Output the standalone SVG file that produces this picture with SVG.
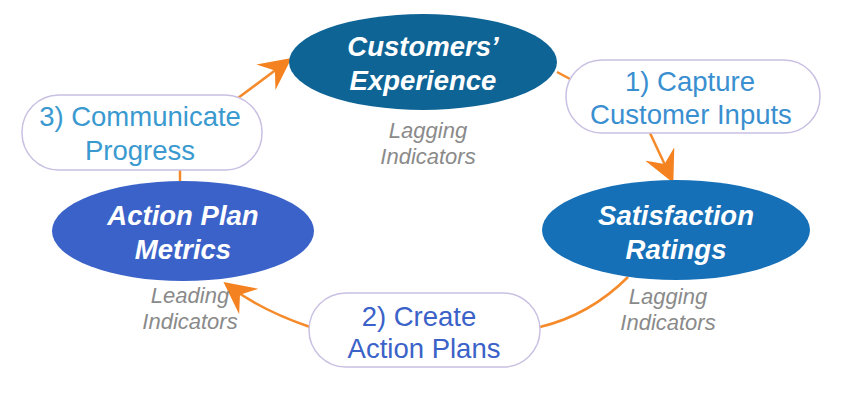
<svg xmlns="http://www.w3.org/2000/svg" width="844" height="402" viewBox="0 0 844 402">
<defs>
<style>
.ell text{font-family:"Liberation Sans",Arial,sans-serif;font-weight:bold;font-style:italic;font-size:27.5px;fill:#fff;text-anchor:middle}
.box rect{fill:#fff;stroke:#c9c0e2;stroke-width:1.5}
.box text{font-family:"Liberation Sans",Arial,sans-serif;font-size:27.5px;text-anchor:middle}
.ind{font-family:"Liberation Sans",Arial,sans-serif;font-style:italic;font-size:22px;fill:#8a8a8a;text-anchor:middle}
.con path{fill:none;stroke:#f58a2a;stroke-width:2.5}
</style>
<marker id="ahb" viewBox="0 0 20 20" refX="18" refY="10" markerWidth="32" markerHeight="32" markerUnits="userSpaceOnUse" orient="auto">
<path d="M0,0 L20,10 L0,20 L7,10 Z" fill="#f58220"/>
</marker>
</defs>
<rect width="844" height="402" fill="#fff"/>
<g class="con" id="connectors">
<path d="M557,72 L570,79"/>
<path d="M650,133 L672,180" marker-end="url(#ahb)"/>
<path d="M628,277 Q590,315 540,327"/>
<path d="M310,327 Q260,310 226,284" marker-end="url(#ahb)"/>
<path d="M180,181 L180,168"/>
<path d="M238,98 L289,60" marker-end="url(#ahb)"/>
</g>
<g id="customers-experience" class="ell">
<ellipse cx="423" cy="62" rx="134" ry="48" fill="#0f6496"/>
<text x="423" y="56">Customers’</text>
<text x="423" y="90">Experience</text>
</g>
<text class="ind" x="428" y="138">Lagging</text>
<text class="ind" x="428" y="164">Indicators</text>
<g id="capture" class="box">
<rect x="566" y="60" width="254" height="73" rx="36"/>
<text x="690" y="91" fill="#3a8fd0">1) Capture</text>
<text x="691" y="124" fill="#3a8fd0">Customer Inputs</text>
</g>
<g id="satisfaction-ratings" class="ell">
<ellipse cx="676" cy="230" rx="134" ry="50" fill="#1670b8"/>
<text x="676" y="225">Satisfaction</text>
<text x="676" y="259">Ratings</text>
</g>
<text class="ind" x="668" y="304">Lagging</text>
<text class="ind" x="668" y="330">Indicators</text>
<g id="create-action-plans" class="box">
<rect x="309" y="293" width="231" height="74" rx="37"/>
<text x="419" y="326" fill="#3b62c8">2) Create</text>
<text x="424" y="358" fill="#3b62c8">Action Plans</text>
</g>
<g id="action-plan-metrics" class="ell">
<ellipse cx="183" cy="231" rx="131" ry="50" fill="#3a62c8"/>
<text x="183" y="225">Action Plan</text>
<text x="183" y="259">Metrics</text>
</g>
<text class="ind" x="190" y="303">Leading</text>
<text class="ind" x="190" y="329">Indicators</text>
<g id="communicate-progress" class="box">
<rect x="22" y="95" width="240" height="75" rx="37"/>
<text x="140" y="126" fill="#3a9ad0">3) Communicate</text>
<text x="140" y="160" fill="#3a9ad0">Progress</text>
</g>
</svg>
